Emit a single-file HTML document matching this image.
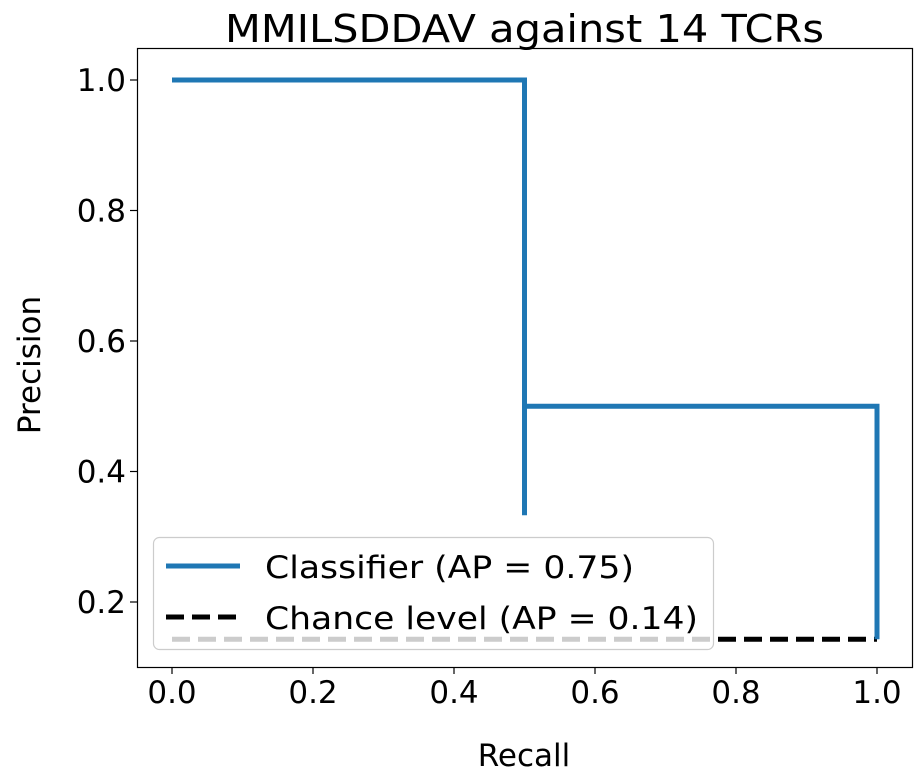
<!DOCTYPE html>
<html><head><meta charset="utf-8"><style>body{margin:0;background:#fff}svg{display:block;font-family:"DejaVu Sans","Liberation Sans",sans-serif}</style></head>
<body>
<svg id="chart" width="921" height="783">
<text x="225" y="42" font-size="38" textLength="599" lengthAdjust="spacingAndGlyphs">MMILSDDAV against 14 TCRs</text>
<g id="plot"></g>
<rect x="137.5" y="48.5" width="775" height="619" fill="none" stroke="#000" stroke-width="1.2"/>
<text x="524" y="766" font-size="31" text-anchor="middle">Recall</text>
<text transform="translate(40,365) rotate(-90)" font-size="31" text-anchor="middle">Precision</text>
</svg>
<script>
const xTicks=[0,0.2,0.4,0.6,0.8,1.0];
const yTicks=[0.2,0.4,0.6,0.8,1.0];
const recall=[0,0.5,0.5,0.5,1,1];
const precision=[1,1,0.333,0.5,0.5,0.1429];
const chanceLevel=[0.1429];
const NS='http://www.w3.org/2000/svg';
const X=v=>172+v*705, Y=v=>80+(1-v)*652.5;
const g=document.getElementById('plot');
function mk(t,a,p){const e=document.createElementNS(NS,t);for(const k in a)e.setAttribute(k,a[k]);(p||g).appendChild(e);return e;}
xTicks.forEach(v=>{
 const l=mk('line',{x1:X(v),x2:X(v),y1:667,y2:674,stroke:'#000','stroke-width':1.2});
 
 
 const t=mk('text',{x:X(v),y:703,'font-size':31,'text-anchor':'middle'});t.textContent=v.toFixed(1);
 
 
});
yTicks.forEach(v=>{
 const l=mk('line',{x1:130,x2:137,y1:Y(v),y2:Y(v),stroke:'#000','stroke-width':1.2});
 
 
 const t=mk('text',{x:126,y:Y(v)+11,'font-size':31,'text-anchor':'end'});t.textContent=v.toFixed(1);
 
 
});
const ch=mk('line',{x1:X(0),x2:X(1),y1:Y(chanceLevel[0]),y2:Y(chanceLevel[0]),stroke:'#000','stroke-width':5,'stroke-dasharray':'18,8'});


const pl=mk('polyline',{points:recall.map((r,i)=>X(r)+','+Y(precision[i])).join(' '),fill:'none',stroke:'#1f77b4','stroke-width':5});


const lg=mk('g',{});


mk('rect',{x:153.5,y:537.5,width:560,height:112,rx:6,fill:'#fff','fill-opacity':0.8,stroke:'#ccc','stroke-width':1.2},lg);
mk('line',{x1:166,x2:240,y1:566,y2:566,stroke:'#1f77b4','stroke-width':5},lg);
mk('line',{x1:166,x2:240,y1:617,y2:617,stroke:'#000','stroke-width':5,'stroke-dasharray':'18,8'},lg);
const t1=mk('text',{x:265,y:578,'font-size':31,textLength:369,lengthAdjust:'spacingAndGlyphs'},lg);t1.textContent='Classifier (AP = 0.75)';


const t2=mk('text',{x:265,y:629,'font-size':31,textLength:433,lengthAdjust:'spacingAndGlyphs'},lg);t2.textContent='Chance level (AP = 0.14)';


</script>
</body></html>
